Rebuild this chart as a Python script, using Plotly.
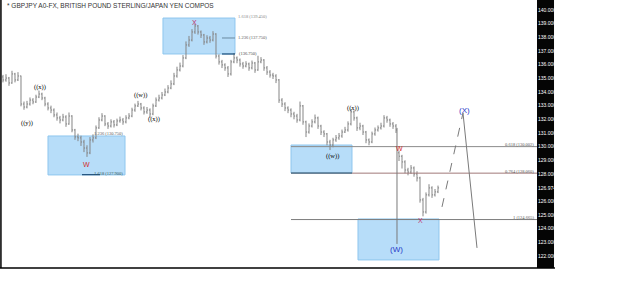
import plotly.graph_objects as go

# ---- data (GBPJPY bars) ----
opens = [135.10,134.88,135.02,134.66,135.32,134.88,135.17,133.12,132.90,133.12,133.41,133.27,133.63,133.85,133.56,133.12,132.83,132.68,132.32,132.10,
         131.95,132.17,131.66,132.24,131.22,130.71,130.64,130.34,129.90,129.54,130.49,130.64,131.37,131.95,132.24,131.66,131.51,131.81,131.59,131.88,
         131.95,131.81,132.10,132.24,132.68,132.98,133.12,132.83,132.54,132.68,132.39,132.98,133.41,133.56,133.78,134.00,134.29,134.59,135.17,135.61,
         135.90,136.49,137.44,137.80,138.39,138.83,138.39,138.17,137.66,137.95,137.80,138.24,136.63,136.20,135.98,135.76,135.32,136.20,136.49,136.34,
         136.05,135.90,136.05,135.76,136.12,135.61,136.20,136.34,135.76,135.46,135.24,135.17,134.88,133.41,133.12,132.83,132.68,132.39,132.24,131.95,
         132.98,131.81,131.07,131.51,131.81,132.10,131.51,131.07,130.93,130.34,130.12,130.49,130.64,130.78,131.07,131.22,131.66,132.54,132.10,131.37,
         131.51,131.07,130.49,130.34,130.93,131.22,131.37,131.51,132.10,131.95,131.66,131.51,129.55,129.30,128.88,128.29,128.14,128.44,128.00,127.71,
         126.10,125.22,126.47,126.98,126.47,126.69]
closes = [134.88,135.02,134.66,135.32,134.88,135.17,133.12,132.90,133.12,133.41,133.27,133.63,133.85,133.56,133.12,132.83,132.68,132.32,132.10,131.95,
          132.17,131.66,132.24,131.22,130.71,130.64,130.34,129.90,129.54,130.49,130.64,131.37,131.95,132.24,131.66,131.51,131.81,131.59,131.88,131.95,
          131.81,132.10,132.24,132.68,132.98,133.12,132.83,132.54,132.68,132.39,132.98,133.41,133.56,133.78,134.00,134.29,134.59,135.17,135.61,135.90,
          136.49,137.44,137.80,138.39,138.83,138.39,138.17,137.66,137.95,137.80,138.24,136.63,136.20,135.98,135.76,135.32,136.20,136.49,136.34,136.05,
          135.90,136.05,135.76,136.12,135.61,136.20,136.34,135.76,135.46,135.24,135.17,134.88,133.41,133.12,132.83,132.68,132.39,132.24,131.95,132.98,
          131.81,131.07,131.51,131.81,132.10,131.51,131.07,130.93,130.34,130.12,130.49,130.64,130.78,131.07,131.22,131.66,132.54,132.10,131.37,131.51,
          131.07,130.49,130.34,130.93,131.22,131.37,131.51,132.10,131.95,131.66,131.51,131.22,129.30,128.88,128.29,128.14,128.44,128.00,127.71,126.10,
          125.22,126.47,126.98,126.47,126.69,126.98]
highs = [135.25,135.30,135.10,135.55,135.40,135.45,135.20,133.30,133.35,133.60,133.55,133.80,134.10,133.95,133.65,133.25,133.00,132.80,132.50,132.25,
         132.40,132.30,132.50,132.30,131.30,130.95,130.80,130.50,130.10,130.70,130.90,131.55,132.15,132.45,132.30,131.80,132.00,131.95,132.05,132.20,
         132.10,132.30,132.45,132.85,133.15,133.35,133.20,132.95,132.90,132.80,133.15,133.60,133.80,134.00,134.25,134.50,134.85,135.40,135.85,136.15,
         136.70,137.70,138.10,138.60,139.00,138.90,138.50,138.25,138.15,138.10,138.45,138.30,136.75,136.35,136.10,135.90,136.35,136.85,136.60,136.45,
         136.20,136.25,136.15,136.30,136.20,136.65,136.55,136.40,135.90,135.60,135.40,135.30,134.95,133.55,133.25,132.95,132.80,132.55,132.40,133.30,
         133.05,131.90,131.70,132.00,132.35,132.20,131.60,131.20,131.00,130.50,130.65,130.85,131.00,131.25,131.45,131.85,132.75,132.65,132.20,131.75,
         131.60,131.15,130.60,131.10,131.40,131.55,131.75,132.30,132.25,132.05,131.80,131.65,129.70,129.40,129.00,128.45,128.65,128.55,128.20,127.80,
         126.25,126.65,127.25,127.10,126.90,127.15]
lows = [134.70,134.75,134.45,134.60,134.70,134.80,132.95,132.70,132.80,133.00,133.10,133.20,133.55,133.40,132.95,132.65,132.45,132.15,131.90,131.70,
        131.85,131.45,131.60,131.05,130.50,130.40,130.05,129.60,129.25,129.45,130.30,130.55,131.30,131.85,131.50,131.30,131.40,131.40,131.50,131.75,
        131.60,131.70,132.00,132.15,132.55,132.90,132.65,132.35,132.40,132.10,132.30,132.90,133.30,133.45,133.70,133.90,134.20,134.50,135.05,135.50,
        135.80,136.40,137.30,137.70,138.25,138.20,137.95,137.45,137.55,137.60,137.70,136.45,136.00,135.75,135.55,135.10,135.20,136.10,136.10,135.85,
        135.70,135.80,135.55,135.65,135.40,135.55,136.10,135.55,135.25,135.05,134.95,134.65,133.20,132.90,132.60,132.45,132.15,132.00,131.75,131.85,
        131.60,130.70,130.95,131.40,131.70,131.30,130.85,130.70,130.10,129.75,129.95,130.35,130.50,130.65,131.00,131.10,131.55,131.90,131.15,131.20,
        130.85,130.25,130.10,130.25,130.80,131.10,131.25,131.40,131.75,131.45,131.30,131.00,128.95,128.40,128.05,127.90,128.00,127.80,127.45,125.90,
        124.90,125.10,126.35,126.25,126.35,126.60]
bars = list(range(len(closes)))

tick_vals = [140, 139, 138, 137, 136, 135, 134, 133, 132, 131, 130, 129, 128, 126.974, 126, 125, 124, 123, 122]
tick_text = ["140.000", "139.000", "138.000", "137.000", "136.000", "135.000", "134.000", "133.000", "132.000",
             "131.000", "130.000", "129.000", "128.000", "126.974", "126.000", "125.000", "124.000", "123.000", "122.000"]

fib_levels = [130.002, 128.06, 124.665]
fib_text = ["0.618 (130.002)", "0.764 (128.060)", "1 (124.665)"]
fib_colors = ["#8c8c8c", "#a07878", "#7c7c7c"]

title_text = "* GBPJPY A0-FX, BRITISH POUND STERLING/JAPAN YEN COMPOS"

fig = go.Figure()
fig.add_trace(go.Ohlc(
    x=bars, open=opens, high=highs, low=lows, close=closes,
    increasing=dict(line=dict(color="#858585", width=1)),
    decreasing=dict(line=dict(color="#858585", width=1)),
    tickwidth=0.35, hoverinfo="skip", showlegend=False,
))

box_fill = "rgba(170,215,248,0.85)"
box_line = "#8ec6ee"
shapes = []
for (x0, x1, y0, y1) in [(15.0, 40.67, 127.93, 130.78), (53.33, 77.33, 136.78, 139.41),
                         (96.0, 116.33, 128.07, 130.12), (118.33, 145.33, 121.71, 124.71)]:
    shapes.append(dict(type="rect", xref="x", yref="y", x0=x0, x1=x1, y0=y0, y1=y1,
                       fillcolor=box_fill, line=dict(color=box_line, width=1), layer="below"))
for lv, col in zip(fib_levels, fib_colors):
    shapes.append(dict(type="line", xref="x", yref="y", x0=96.0, x1=178, y0=lv, y1=lv,
                       line=dict(color=col, width=1)))
shapes.append(dict(type="line", xref="x", yref="y", x0=73, x1=77.33, y0=137.95, y1=137.95, line=dict(color="#6a8aa0", width=1)))
shapes.append(dict(type="line", xref="x", yref="y", x0=73, x1=77.33, y0=136.78, y1=136.78, line=dict(color="#1f4f7a", width=1.2)))
shapes.append(dict(type="line", xref="x", yref="y", x0=26.33, x1=32.33, y0=127.95, y1=127.95, line=dict(color="#1f4f7a", width=1.2)))
shapes.append(dict(type="line", xref="x", yref="y", x0=96.0, x1=116.33, y0=128.07, y1=128.07, line=dict(color="#2a6a8a", width=1.2)))
shapes.append(dict(type="line", xref="x", yref="y", x0=131.33, x1=131.33, y0=131.37, y1=122.88, line=dict(color="#7a7a7a", width=1)))
shapes.append(dict(type="line", xref="x", yref="y", x0=146.33, x1=153.33, y0=125.59, y1=132.46, line=dict(color="#7a7a7a", width=1, dash="dash")))
shapes.append(dict(type="line", xref="x", yref="y", x0=153.33, x1=158.0, y0=132.46, y1=122.59, line=dict(color="#7a7a7a", width=1)))
shapes.append(dict(type="rect", xref="paper", yref="paper", x0=1.0, x1=1.0318, y0=0, y1=1,
                   fillcolor="#050505", line=dict(width=0), layer="below"))
shapes.append(dict(type="line", xref="paper", yref="paper", x0=-0.004, x1=1.0336, y0=0, y1=0, line=dict(color="#000", width=1.5)))
shapes.append(dict(type="line", xref="paper", yref="paper", x0=-0.002, x1=-0.002, y0=0, y1=1, line=dict(color="#000", width=1.5)))

ann = []
def A(x, y, t, color="#111", size=6, family="Liberation Serif", xanchor="center"):
    ann.append(dict(x=x, y=y, xref="x", yref="y", text=t, showarrow=False,
                    font=dict(color=color, size=size, family=family), xanchor=xanchor, yanchor="middle"))

wave_lbl = [(12.33, 134.36, "((x))"), (8.0, 131.73, "((y))"), (45.67, 133.78, "((w))"),
            (50.33, 132.02, "((x))"), (109.67, 129.32, "((w))"), (116.67, 132.83, "((x))")]
for x, y, t in wave_lbl:
    A(x, y, t, color="#000", size=6.5)
A(28.0, 128.73, "W", color="#d42a2a", size=7, family="Liberation Sans")
A(63.67, 139.12, "X", color="#c0336e", size=7, family="Liberation Sans")
A(132.33, 129.90, "W", color="#d42a2a", size=7, family="Liberation Sans")
A(139.33, 124.56, "X", color="#c0336e", size=7, family="Liberation Sans")
A(131.33, 122.51, "(W)", color="#2838c8", size=8, family="Liberation Sans")
A(153.67, 132.68, "(X)", color="#2838c8", size=8, family="Liberation Sans")
for lv, t in zip(fib_levels, fib_text):
    A(177.67, lv + 0.15, t, color="#555", size=4.5, family="Liberation Serif", xanchor="right")
A(40.6, 128.05, "1.618 (127.900)", color="#355", size=4.5, xanchor="right")
A(40.6, 130.93, "1.236 (130.750)", color="#555", size=4.5, xanchor="right")
A(77.67, 139.49, "1.618 (139.450)", color="#888", size=4.5, xanchor="left")
A(77.67, 137.95, "1.236 (137.750)", color="#555", size=4.5, xanchor="left")
A(78.0, 136.85, "(136.750)", color="#444", size=4.5, xanchor="left")
ann.append(dict(x=0.006, y=1.0, xref="paper", yref="paper", text=title_text, showarrow=False,
                xanchor="left", yanchor="top", font=dict(color="#333", size=6.5, family="Liberation Sans")))

fig.update_layout(
    width=625, height=302,
    margin=dict(l=2, r=88, t=0, b=34),
    paper_bgcolor="white", plot_bgcolor="white",
    shapes=shapes, annotations=ann, showlegend=False,
    xaxis=dict(range=[-0.33, 178], showgrid=False, zeroline=False, showticklabels=False,
               ticks="", showline=False, rangeslider=dict(visible=False), fixedrange=True),
    yaxis=dict(range=[121.12, 140.73], side="right", showgrid=False, zeroline=False, showline=False,
               ticks="", tickvals=tick_vals, ticktext=tick_text,
               tickfont=dict(color="white", size=5, family="Liberation Sans"), fixedrange=True),
)
fig.write_html("out.html")
